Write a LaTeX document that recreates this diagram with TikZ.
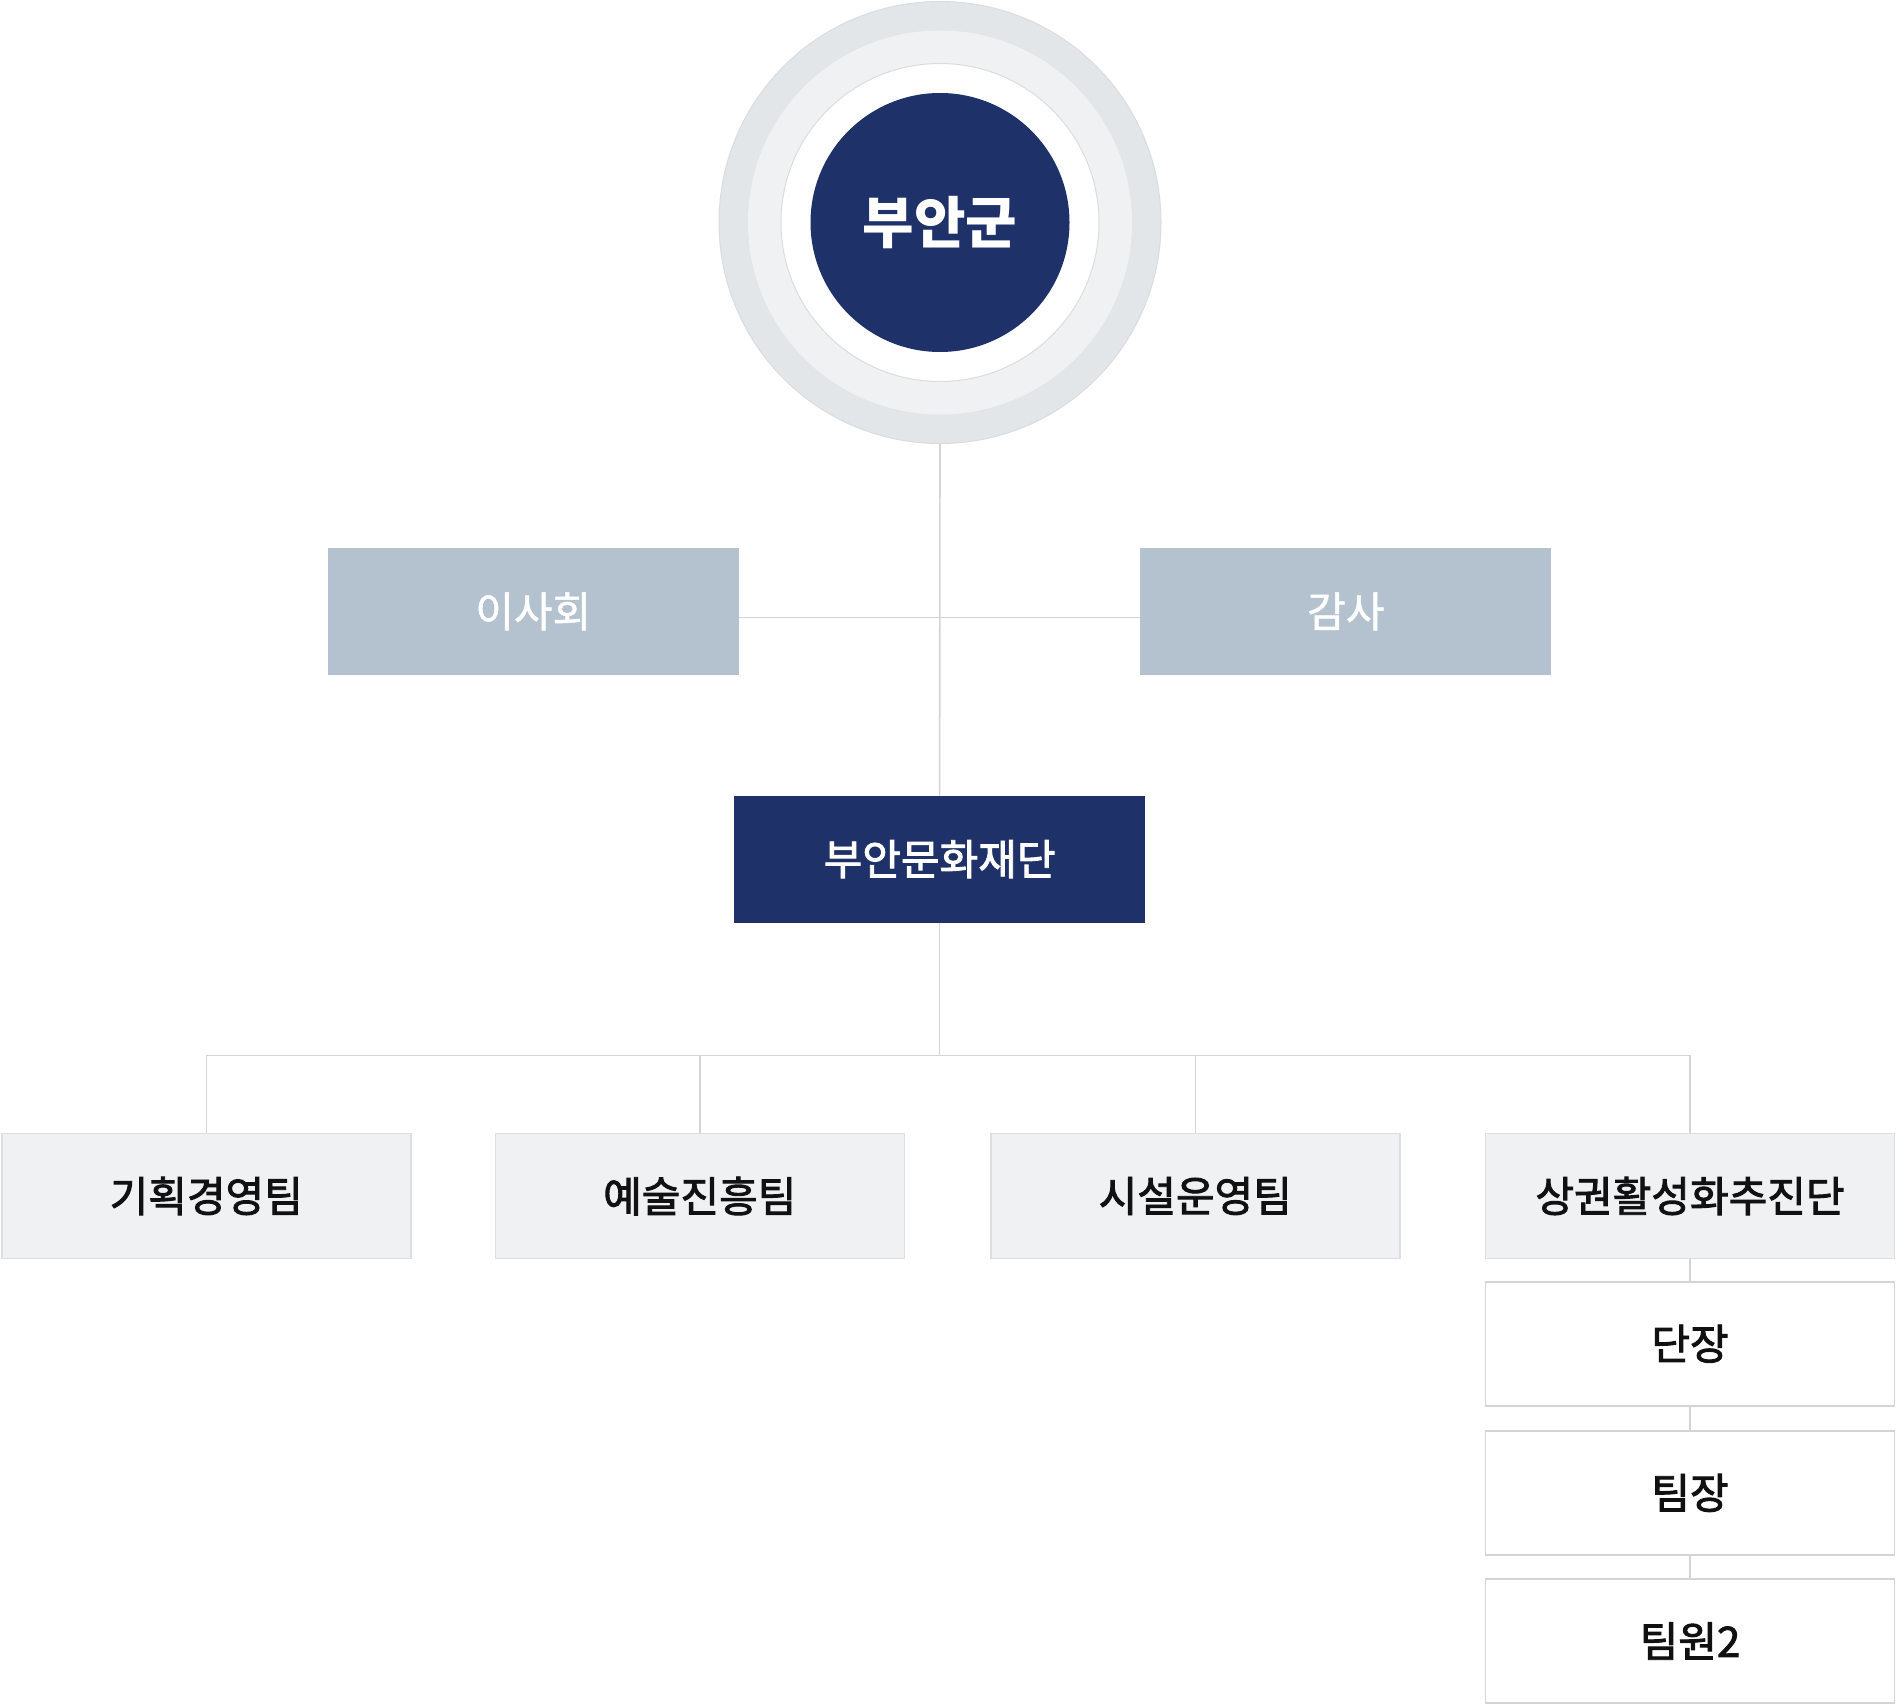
\documentclass[tikz,border=0pt]{standalone}
\usepackage{fontspec}
\setmainfont{Noto Sans CJK KR}
\newfontfamily\medfont[FakeBold=2.2]{Noto Sans CJK KR}
\newfontfamily\lightmed[FakeBold=1.2]{Noto Sans CJK KR}
\definecolor{navy}{RGB}{30,49,105}
\definecolor{boxblue}{RGB}{180,194,207}
\definecolor{ringA}{RGB}{227,230,233}
\definecolor{ringB}{RGB}{240,241,243}
\definecolor{ringedge}{RGB}{218,221,224}
\definecolor{linegray}{RGB}{212,212,212}
\definecolor{teamfill}{RGB}{240,241,243}
\definecolor{teamedge}{RGB}{220,222,226}
\definecolor{subedge}{RGB}{212,212,212}
\definecolor{txt}{RGB}{17,17,17}
\begin{document}
\begin{tikzpicture}[x=1pt,y=-1pt,
  conn/.style={draw=linegray, line width=1.6pt},
  lbl/.style={font=\medfont\fontsize{42}{44}\selectfont},
  topbox/.style={rectangle, fill=boxblue, text=white, minimum width=411pt, minimum height=127pt, inner sep=0pt, font=\lightmed\fontsize{42}{44}\selectfont},
  navybox/.style={rectangle, fill=navy, text=white, minimum width=411pt, minimum height=127pt, inner sep=0pt, lbl},
  teambox/.style={rectangle, fill=teamfill, draw=teamedge, line width=1.6pt, text=txt, minimum width=409pt, minimum height=125pt, inner sep=0pt, lbl},
  subbox/.style={rectangle, fill=white, draw=subedge, line width=1.8pt, text=txt, minimum width=409pt, minimum height=124pt, inner sep=0pt, lbl}
]
\useasboundingbox[fill=white] (0,0) rectangle (1896,1704);
% top circle
\node[circle, fill=ringA, draw=ringedge, line width=1pt, minimum size=442pt, inner sep=0pt] (ring) at (940,222.5) {};
\node[circle, fill=ringB, minimum size=384pt, inner sep=0pt] (ringb) at (ring.center) {};
\node[circle, fill=white, draw=ringedge, line width=1pt, minimum size=318pt, inner sep=0pt] (ringc) at (ring.center) {};
\node[circle, fill=navy, minimum size=259pt, inner sep=0pt, text=white, font=\bfseries\fontsize{56}{58}\selectfont] (gun) at (ring.center) {부안군};
% second level
\node[topbox] (board) at (533.3,611.3) {이사회};
\node[topbox] (audit) at (1345.8,611.3) {감사};
\node[navybox] (found) at (939.6,859.2) {부안문화재단};
% teams
\node[teambox] (t1) at (206.3,1196) {기획경영팀};
\node[teambox] (t2) at (699.8,1196) {예술진흥팀};
\node[teambox] (t3) at (1195.3,1196) {시설운영팀};
\node[teambox] (t4) at (1690,1196) {상권활성화추진단};
% sub boxes
\node[subbox] (s1) at (1690,1343.7) {단장};
\node[subbox] (s2) at (1690,1492.9) {팀장};
\node[subbox] (s3) at (1690,1641) {팀원2};
\coordinate (bus) at (939.6,1055.6);
% connectors
\draw[conn] (ring.south) -- (found.north);
\draw[conn] ([yshift=-6pt]board.east) -- ([yshift=-6pt]audit.west);
\draw[conn] (found.south) -- (bus);
\draw[conn] (t1.north) |- (bus) -| (t4.north);
\draw[conn] (t2.north) -- (t2.north |- bus);
\draw[conn] (t3.north) -- (t3.north |- bus);
\draw[conn] (t4.south) -- (s1.north);
\draw[conn] (s1.south) -- (s2.north);
\draw[conn] (s2.south) -- (s3.north);
\end{tikzpicture}
\end{document}
